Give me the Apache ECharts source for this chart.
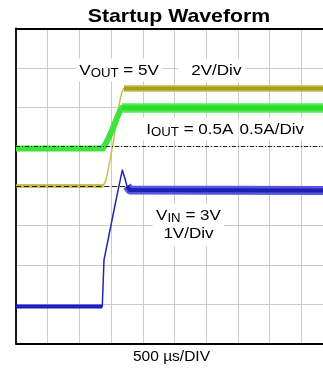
<!DOCTYPE html>
<html><head><meta charset="utf-8">
<style>html,body{margin:0;padding:0;background:#fff;overflow:hidden}#c{width:323px;height:371px}</style>
<script src="https://cdn.jsdelivr.net/npm/echarts@6/dist/echarts.min.js"></script>
</head><body><div id="c"></div>
<script>
// time in µs (500 µs/DIV)
const voutT = [0, 1372, 1420, 1483, 1546, 1593, 1640, 1672, 1703, 5000];
const voutV = [0, 0, 0.3, 1.32, 2.44, 3.46, 4.37, 4.78, 4.96, 4.96];
const ioutT = [0, 1372, 1420, 1483, 1530, 1593, 1640, 1672, 5000];
const ioutA = [-0.023, -0.023, 0.047, 0.149, 0.237, 0.365, 0.453, 0.49, 0.49];
const vinT = [0, 1361, 1388, 1483, 1546, 1617, 1677, 1711, 1751, 1798, 5000];
const vinV = [-0.056, -0.056, 1.124, 1.886, 2.393, 2.95, 3.41, 3.23, 3.0, 2.90, 2.89];
// channel settings: [zero position (divisions from bottom), units per division]
const voutCh = [4, 2];
const ioutCh = [5, 0.5];
const vinCh = [1, 1];
const usPerDiv = 500, xDivs = 10, yDivs = 8;

function seg(t, v, ch, from, to) {
  const out = [];
  for (let i = from; i <= to; i++) out.push([t[i], ch[0] + v[i] / ch[1]]);
  return out;
}
const FF = 'Liberation Sans, Arial, Helvetica, sans-serif';
const chart = echarts.init(document.getElementById('c'), null, {renderer: 'canvas'});
const lineS = (data, color, width, z) => ({
  type: 'line', data, showSymbol: false, symbol: 'none', animation: false, z: z || 2,
  lineStyle: {color, width, cap: 'butt', join: 'round'}, silent: true
});
const series = [
  lineS(seg(voutT, voutV, voutCh, 0, 1), '#b3ab26', 3.5),
  lineS(seg(voutT, voutV, voutCh, 0, voutT.length - 1), '#c9c247', 1.5),
  lineS(seg(voutT, voutV, voutCh, 8, voutT.length - 1), '#c4bd4a', 6.5),
  lineS(seg(voutT, voutV, voutCh, 8, voutT.length - 1), '#a69e1c', 3.5),
  {
    type: 'line', data: [], silent: true, z: 3,
    markLine: {symbol: 'none', silent: true, animation: false, label: {show: false},
      lineStyle: {color: '#222', width: 1, type: [4, 2, 1, 2]},
      data: [{yAxis: ioutCh[0]}]}
  },
  lineS(seg(ioutT, ioutA, ioutCh, 0, ioutT.length - 1), '#3ee43e', 6, 4),
  lineS(seg(ioutT, ioutA, ioutCh, 7, ioutT.length - 1), '#55ea55', 9.5, 4),
  lineS(seg(ioutT, ioutA, ioutCh, 7, ioutT.length - 1), '#2ade2a', 5, 4),
  {
    type: 'line', data: [], silent: true, z: 5,
    markLine: {symbol: 'none', silent: true, animation: false, label: {show: false},
      lineStyle: {color: '#222', width: 1, type: [5, 3]},
      data: [{yAxis: voutCh[0]}]}
  },
  lineS(seg(vinT, vinV, vinCh, 0, 1), '#1414d2', 4, 6),
  lineS(seg(vinT, vinV, vinCh, 0, vinT.length - 1), '#2626a8', 1.5, 6),
  lineS(seg(vinT, vinV, vinCh, 8, vinT.length - 1), '#5555e0', 9, 6),
  lineS(seg(vinT, vinV, vinCh, 8, vinT.length - 1), '#1e1eb4', 4, 6)
];
const axisCommon = {
  type: 'value', axisLabel: {show: false}, axisTick: {show: false}, axisLine: {show: false},
  splitLine: {show: true, lineStyle: {color: '#cbcbcb', width: 1}}
};
const main = {fill: '#000', fontSize: 15.5, fontFamily: FF, lineHeight: 18};
const sub = {fill: '#000', fontSize: 12, fontFamily: FF, lineHeight: 18, verticalAlign: 'bottom'};
function label(x, y, text, rich, padding, align) {
  return {
    type: 'text', x, y, scaleX: 1.1, z: 50,
    style: {text, rich, fontSize: 15.5, fontFamily: FF, fill: '#000', align: align || 'left',
      verticalAlign: 'middle', backgroundColor: '#fff', padding}
  };
}
const rich = {m: main, s: sub};
chart.setOption({
  animation: false,
  grid: {left: 16, top: 28.5, width: 317, height: 315.2, show: false, outerBoundsMode: 'none', containLabel: false},
  xAxis: [
    Object.assign({min: 0, max: usPerDiv * xDivs, interval: usPerDiv}, axisCommon,
      {axisLine: {show: true, onZero: false, lineStyle: {color: '#000', width: 1.8}}}),
    Object.assign({min: 0, max: usPerDiv * xDivs, interval: usPerDiv, position: 'top'}, axisCommon,
      {splitLine: {show: false}, axisLine: {show: true, onZero: false, lineStyle: {color: '#000', width: 1.8}}})
  ],
  yAxis: Object.assign({min: 0, max: yDivs, interval: 1}, axisCommon,
    {axisLine: {show: true, onZero: false, lineStyle: {color: '#000', width: 1.8}}}),
  series,
  graphic: [
    {type: 'text', x: 179, y: 16.5, scaleX: 1.12, style: {text: 'Startup Waveform', fontSize: 19, fontWeight: 'bold', fontFamily: FF, fill: '#000', align: 'center', verticalAlign: 'middle'}},
    label(76, 70, '{m|V}{s|OUT}{m| = 5V}', rich, [3, 3, 2, 3]),
    label(178, 70, '{m|2V/Div}', rich, [3, 4, 2, 12]),
    label(143, 129, '{m|I}{s|OUT}{m| = 0.5A}', rich, [3, 3, 2, 3]),
    label(238.5, 129, '{m|0.5A/Div}', rich, [3, 3, 2, 1]),
    label(188.5, 225, '{m|V}{s|IN}{m| = 3V}\n{m|1V/Div}', rich, [3, 3, 3, 3], 'center'),
    {type: 'text', x: 171.5, y: 357, scaleX: 1.07, style: {text: '500 µs/DIV', fontSize: 14.5, fontFamily: FF, fill: '#000', align: 'center', verticalAlign: 'middle'}}
  ]
});
</script></body></html>
